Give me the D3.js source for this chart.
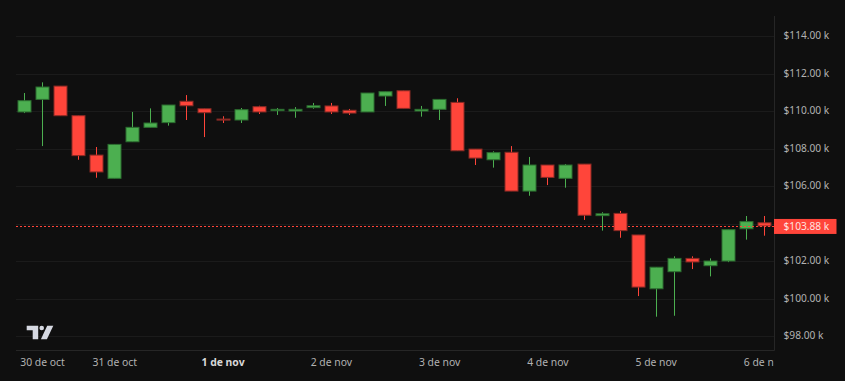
<!DOCTYPE html>
<html>
<head>
<meta charset="utf-8">
<script src="https://cdn.jsdelivr.net/npm/d3@7"></script>
<style>
  html, body { margin: 0; padding: 0; background: #0f0f0f; overflow: hidden; }
  text { font-family: "Noto Sans", sans-serif; }
</style>
</head>
<body>
<svg id="chart" width="845" height="381" style="display:block"></svg>
<script>
// one candle every 4 hours, 30 oct - 6 nov, prices in $ thousands
const opens  = [109.96,110.63,111.34,109.76,107.66,106.42,108.37,109.14,109.39,110.53,110.13,109.58,109.53,110.24,
                110.03,110.01,110.19,110.28,110.05,109.96,110.81,111.09,110.01,110.10,110.47,107.98,107.41,107.81,
                105.74,107.13,106.42,107.18,104.43,104.55,103.40,100.53,101.44,102.15,101.76,102.01,103.73,104.05];
const highs  = [110.97,111.54,111.34,109.76,108.09,108.23,109.96,110.15,110.33,110.86,110.13,109.73,110.17,110.29,
                110.17,110.22,110.44,110.44,110.12,110.97,111.04,111.09,110.28,110.63,110.69,107.98,107.86,108.14,
                107.56,107.13,107.18,107.18,104.61,104.68,103.40,101.68,102.26,102.26,102.15,103.68,104.41,104.41];
const lows   = [109.90,108.14,109.76,107.41,106.45,106.42,108.37,109.14,109.23,109.53,108.62,109.37,109.37,109.85,
                109.80,109.65,110.13,109.85,109.80,109.96,110.28,110.15,109.71,109.53,107.89,107.13,106.99,105.74,
                105.49,106.06,105.92,104.20,103.63,103.25,100.14,99.04,99.09,101.58,101.19,101.95,103.15,103.36];
const closes = [110.56,111.29,109.76,107.63,106.76,108.23,109.14,109.37,110.33,110.29,109.92,109.53,110.08,109.96,
                110.10,110.10,110.29,109.96,109.90,110.97,111.04,110.15,110.10,110.63,107.89,107.50,107.79,105.74,
                107.13,106.47,107.13,104.45,104.53,103.63,100.62,101.68,102.15,101.96,102.01,103.68,104.11,103.88];

const gridPrices = [98, 100, 102, 104, 106, 108, 110, 112, 114];
const priceLabels = [98, 100, 102, 106, 108, 110, 112, 114];
const dateTicks  = [1, 5, 11, 17, 23, 29, 35, 41];
const dateLabels = ["30 de oct", "31 de oct", "1 de nov", "2 de nov", "3 de nov", "4 de nov", "5 de nov", "6 de nov"];
const lastPrice = 103.88;

const green = "#4caf50", greenEdge = "#2c6e30", red = "#ff453a", redEdge = "#8a2a25";
const plotLeft = 16, plotRight = 774, plotTop = 16, plotBottom = 350;

var scX = d3.scaleLinear().domain([0, 41]).range([24.5, 764.5]),
    scY = d3.scaleLinear().domain([98, 114]).range([336.2, 36.2]);

var svg = d3.select("#chart");

svg.append("clipPath").attr("id", "timeClip")
   .append("rect").attr("x", 0).attr("y", -10).attr("width", plotRight).attr("height", 31);

// grid
svg.append("g").selectAll("line").data(gridPrices).join("line")
   .attr("x1", plotLeft).attr("x2", plotRight)
   .attr("y1", d => Math.round(scY(d)) + 0.5).attr("y2", d => Math.round(scY(d)) + 0.5)
   .attr("stroke", "#1b1b1b");

// frame
svg.append("path")
   .attr("d", `M${plotLeft},${plotBottom + 0.5}H${plotRight + 0.5}M${plotRight + 0.5},${plotTop}V${plotBottom + 0.5}`)
   .attr("fill", "none").attr("stroke", "#262626");

// axes
var axisY = d3.axisRight(scY).tickValues(priceLabels).tickSize(0).tickPadding(0)
              .tickFormat(d => "$" + d3.format(".2f")(d) + " k");
var gy = svg.append("g").attr("transform", "translate(783.5,-0.7)").call(axisY);
gy.select(".domain").remove();
gy.selectAll("text").attr("fill", "#b2b2b2").style("font-size", "10.2px");

var axisX = d3.axisBottom(scX).tickValues(dateTicks).tickSize(0).tickPadding(0)
              .tickFormat((d, i) => dateLabels[i]);
var gx = svg.append("g").attr("transform", "translate(-0.5,359)").attr("clip-path", "url(#timeClip)").call(axisX);
gx.select(".domain").remove();
gx.selectAll("text").style("font-size", "10.4px")
  .style("font-weight", (d, i) => i == 2 ? "700" : "400")
  .attr("fill", (d, i) => i == 2 ? "#d8d8d8" : "#b2b2b2");

// candles
var candles = svg.append("g").selectAll("g").data(d3.range(opens.length)).join("g");

candles.append("line")
   .attr("x1", i => Math.floor(scX(i)) + 0.5).attr("x2", i => Math.floor(scX(i)) + 0.5)
   .attr("y1", i => scY(highs[i])).attr("y2", i => scY(lows[i]))
   .attr("stroke", i => closes[i] >= opens[i] ? green : red);

candles.append("rect")
   .attr("x", i => Math.floor(scX(i)) - 6)
   .attr("width", 13)
   .attr("y", i => scY(Math.max(opens[i], closes[i])))
   .attr("height", i => Math.max(1, Math.abs(scY(opens[i]) - scY(closes[i]))))
   .attr("fill", i => closes[i] >= opens[i] ? green : red)
   .attr("stroke", i => closes[i] >= opens[i] ? greenEdge : redEdge)
   .attr("stroke-width", 1);

// last price line and tag
svg.append("line")
   .attr("x1", plotLeft).attr("x2", plotRight)
   .attr("y1", Math.round(scY(lastPrice)) + 0.5).attr("y2", Math.round(scY(lastPrice)) + 0.5)
   .attr("stroke", red).attr("stroke-dasharray", "2,2");

svg.append("rect")
   .attr("x", plotRight).attr("y", scY(lastPrice) - 7)
   .attr("width", 62.5).attr("height", 15)
   .attr("fill", red);

svg.append("text")
   .attr("x", 783.5).attr("y", scY(lastPrice) + 0.5).attr("dy", "0.32em")
   .attr("fill", "#ffe3e0").style("font-size", "10.2px")
   .text("$" + d3.format(".2f")(lastPrice) + " k");

// tradingview logo
var logo = svg.append("g").attr("transform", "translate(26.7,325.7)").attr("fill", "#d6d9e2");
logo.append("path").attr("d", "M0,0H11.5V13.6H6V4.6H0Z");
logo.append("circle").attr("cx", 15).attr("cy", 2.3).attr("r", 2.3);
logo.append("path").attr("d", "M20.5,0H26.6L20.2,13.6H14.2Z");
</script>
</body>
</html>
